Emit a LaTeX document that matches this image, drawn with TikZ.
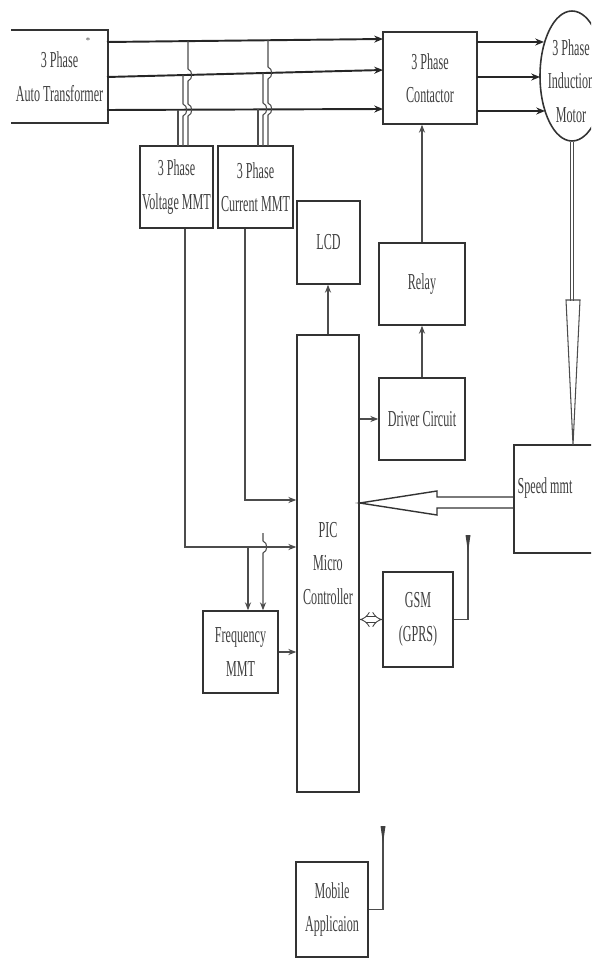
\documentclass[tikz,border=0pt]{standalone}
\usepackage{fontspec}
\setmainfont{Liberation Serif}
\usetikzlibrary{shapes.geometric,arrows.meta,calc}
\newcommand{\sq}[1]{\scalebox{0.53}[1]{#1}}
\tikzset{
  bx/.style 2 args={draw=black!80, line width=0.9pt, inner sep=0pt,
    minimum width=#1*0.02cm, minimum height=#2*0.02cm,
    font=\fontsize{13}{19}\selectfont, text=black!75, align=center},
  lbl/.style={inner sep=0pt, font=\fontsize{13}{19}\selectfont, text=black!75, align=center},
  edge/.style={draw=black!80, line width=0.9pt},
  phase/.style={draw=black!85, line width=1.1pt, -{Stealth[length=5pt,width=4pt]}},
  conn/.style={draw=black!70, line width=0.6pt},
  arr/.style={-{Stealth[length=4.5pt,width=3.5pt]}}
}
\begin{document}
\begin{tikzpicture}[x=0.02cm,y=-0.02cm]
\useasboundingbox (0,0) rectangle (591,959);
\clip (0,0) rectangle (591,959);

% blocks
\node[bx={95}{91}, draw=none] (trans) at (59.5,76.5) {\sq{3 Phase}\\\sq{Auto Transformer}};
\draw[edge] (trans.north west) -- (trans.north east) -- (trans.south east) -- (trans.south west);
\node[lbl, font=\tiny] (star) at (88,41) {*};
\node[bx={94}{92}] (cont) at (430,78) {\sq{3 Phase}\\\sq{Contactor}};
\node[bx={64}{130}, ellipse] (motor) at (572,76) {};
\node[lbl] (motort) at (571,81) {\sq{3 Phase}\\\sq{Induction}\\\sq{Motor}};
\node[bx={73}{82}] (vmmt) at (176.5,187) {\sq{3 Phase}\\\sq{Voltage MMT}};
\node[bx={75}{82}] (cmmt) at (255.5,187) {\sq{3 Phase}\\\sq{Current MMT}};
\node[bx={63}{83}] (lcd) at (328.5,242.5) {\sq{LCD}};
\node[bx={86}{82}] (relay) at (422,284) {\sq{Relay}};
\node[bx={62}{457}] (pic) at (328,563.5) {\sq{PIC}\\\sq{Micro}\\\sq{Controller}};
\node[bx={86}{82}] (driver) at (422,419) {\sq{Driver Circuit}};
\node[bx={86}{108}] (speed) at (557,499) {};
\node[lbl] (speedt) at (545,488) {\sq{Speed mmt}};
\node[bx={75}{82}] (freq) at (240.5,652) {\sq{Frequency}\\\sq{MMT}};
\node[bx={70}{95}] (gsm) at (418,619.5) {\sq{GSM}\\\sq{(GPRS)}};
\node[bx={72}{95}] (mobile) at (332,909.5) {\sq{Mobile}\\\sq{Applicaion}};

% three phase lines
\coordinate (a1) at (107,42); \coordinate (a2) at (107,77); \coordinate (a3) at (107,110);
\coordinate (b1) at (383,39); \coordinate (b2) at (383,70); \coordinate (b3) at (383,109);
\draw[phase] (a1) -- (b1);
\draw[phase] (a2) -- (b2);
\draw[phase] (a3) -- (b3);
\coordinate (c1) at (477,42); \coordinate (c2) at (477,77); \coordinate (c3) at (477,111);
\coordinate (m1) at (544,42); \coordinate (m2) at (540,77); \coordinate (m3) at (545,111);
\draw[phase] (c1) -- (m1);
\draw[phase] (c2) -- (m2);
\draw[phase] (c3) -- (m3);

% measurement taps with crossing hops
\draw[conn] (188,41) -- (188,69) .. controls (193,71) and (193,79) .. (188,81) -- (188,104)
  .. controls (193,106) and (193,114) .. (188,116) -- (188,146);
\draw[conn] (183,75) -- (183,104) .. controls (188,106) and (188,114) .. (183,116) -- (183,146);
\draw[conn] (178,110) -- (178,146);
\draw[conn] (268,40) -- (268,67) .. controls (273,69) and (273,77) .. (268,79) -- (268,103)
  .. controls (273,105) and (273,113) .. (268,115) -- (268,146);
\draw[conn] (263,73) -- (263,103) .. controls (268,105) and (268,113) .. (263,115) -- (263,146);
\draw[conn] (258,109) -- (258,146);

% motor to speed measurement
\draw[conn] ([xshift=-0.03cm]motor.south) -- ++(0,159);
\draw[conn] ([xshift=0.03cm]motor.south) -- ++(0,159);
\coordinate (st) at (573,445);
\draw[conn] (566,300) -- (st) -- (580,300) -- cycle;

% speed to PIC hollow arrow
\draw[edge, line width=0.8pt] (514,497) -- (437,497) -- (437,491) -- (pic.east |- 0,503)
  -- (437,515) -- (437,508) -- (514,508);

% controller connections
\coordinate (vy) at (0,547);
\coordinate (cy) at (0,500);
\draw[conn, arr] ([xshift=0.17cm]vmmt.south) |- (pic.west |- vy);
\draw[conn, arr] ([xshift=-0.21cm]cmmt.south) |- (pic.west |- cy);
\coordinate (fb1) at (248,547);
\coordinate (fb2) at (263,533);
\draw[conn, arr] (fb1) -- (fb1 |- freq.north);
\draw[conn, arr] (fb2) -- (263,541) .. controls (268,543) and (268,551) .. (263,553) -- (fb2 |- freq.north);
\draw[conn, arr] (freq.east) -- (freq.east -| pic.west);
\draw[conn, arr] (driver.west -| pic.east) -- (driver.west);
\draw[conn, arr] (pic.north) -- (pic.north |- lcd.south);
\draw[conn, arr] (driver.north) -- (relay.south);
\draw[conn, arr] (relay.north) -- (relay.north |- cont.south);
\draw[black!75, line width=0.5pt, double, double distance=2.5pt, {Implies}-{Implies}]
  (gsm.west -| pic.east) -- (gsm.west);

% antennas
\coordinate (ga) at (468,535);
\draw[conn, line width=0.8pt] (gsm.east) -| (ga);
\fill[black!75] (465.5,535) -- (470.5,535) -- (468,552) -- cycle;
\coordinate (ma) at (383,826);
\draw[conn, line width=0.8pt] (mobile.east) -| (ma);
\fill[black!75] (380.5,826) -- (385.5,826) -- (383,843) -- cycle;
\end{tikzpicture}
\end{document}
